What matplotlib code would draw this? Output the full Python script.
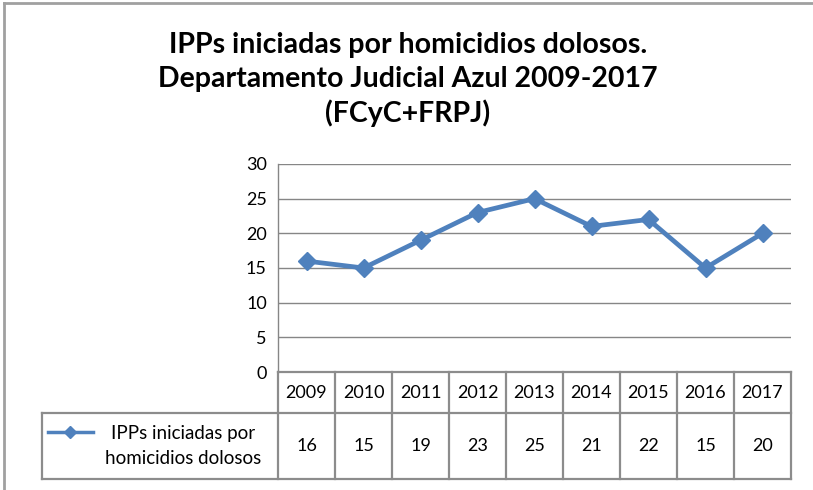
import matplotlib
matplotlib.use("Agg")
import matplotlib.pyplot as plt
from matplotlib.lines import Line2D

years = ["2009", "2010", "2011", "2012", "2013", "2014", "2015", "2016", "2017"]
values = [16, 15, 19, 23, 25, 21, 22, 15, 20]
series_name = "IPPs iniciadas por\nhomicidios dolosos"
title_lines = ["IPPs iniciadas por homicidios dolosos.",
               "Departamento Judicial Azul 2009-2017",
               "(FCyC+FRPJ)"]
yticks = [0, 5, 10, 15, 20, 25, 30]

plt.rcParams['font.family'] = ['Lato', 'DejaVu Sans']

W, H = 813, 490
fig = plt.figure(figsize=(W / 100, H / 100), dpi=100)
fig.patch.set_facecolor("white")

def fx(px):
    return px / W

def fy(py):
    return 1 - py / H

color = "#4F81BD"
grid_c = "#868686"

# outer frame (left & top visible)
fig.add_artist(Line2D([fx(4), fx(4)], [fy(3), fy(H + 5)], color="#A0A0A0", lw=2.0))
fig.add_artist(Line2D([fx(4), fx(W + 5)], [fy(3), fy(3)], color="#A0A0A0", lw=2.0))

# title
for i, t in enumerate(title_lines):
    fig.text(fx(408), fy(45 + i * 34), t, ha="center", va="center",
             fontsize=20.5, fontweight="bold", color="black")

# main axes
L, R, T, B = 278, 791, 164, 372
ax = fig.add_axes([fx(L), fy(B), fx(R - L), (B - T) / H])
n = len(years)
x = list(range(n))
ax.plot(x, values, color=color, lw=3.4, marker="D", markersize=9.5,
        markerfacecolor=color, markeredgecolor=color, zorder=3)
ax.set_xlim(-0.5, n - 0.5)
ax.set_ylim(0, 30)
ax.set_yticks(yticks)
ax.set_yticklabels([str(v) for v in yticks], fontsize=13)
ax.yaxis.grid(True, color=grid_c, lw=1.0)
ax.set_axisbelow(True)
ax.tick_params(axis="y", length=0, pad=8)
ax.set_xticks([])
for s in ["top", "right", "bottom"]:
    ax.spines[s].set_visible(False)
ax.spines["left"].set_color(grid_c)
ax.spines["left"].set_linewidth(1.0)

# data table axes (shares horizontal scale with the main axes)
TL, TT, TB = 42, 372, 479
HB = 413
col_w = (R - L) / n
tax = fig.add_axes([fx(TL), fy(TB), fx(R - TL), (TB - TT) / H])
left_edge = -0.5 - (L - TL) / col_w
tax.set_xlim(left_edge, n - 0.5)
tax.set_ylim(TB, TT)
tax.axis("off")

lw = 1.6
tc = "#8C8C8C"
tax.plot([-0.5, n - 0.5], [TT, TT], color=tc, lw=lw, clip_on=False)
tax.plot([left_edge, n - 0.5], [HB, HB], color=tc, lw=lw, clip_on=False)
tax.plot([left_edge, n - 0.5], [TB, TB], color=tc, lw=lw, clip_on=False)
tax.plot([left_edge, left_edge], [HB, TB], color=tc, lw=lw, clip_on=False)
for i in range(n + 1):
    tax.plot([i - 0.5, i - 0.5], [TT, TB], color=tc, lw=lw, clip_on=False)

for i, (yr, v) in enumerate(zip(years, values)):
    tax.text(i, (TT + HB) / 2, yr, ha="center", va="center", fontsize=13)
    tax.text(i, (HB + TB) / 2, str(v), ha="center", va="center", fontsize=13)

# legend key in table
px = lambda p: left_edge + (p - TL) / col_w
tax.plot([px(48), px(93)], [432, 432], color=color, lw=2.5, clip_on=False)
tax.plot([px(70.5)], [432], marker="D", color=color, markersize=6, clip_on=False)
tax.text(px(183), 446, series_name, ha="center", va="center", fontsize=13.5,
         linespacing=1.6)

fig.savefig("out.png", dpi=100, facecolor="white")
